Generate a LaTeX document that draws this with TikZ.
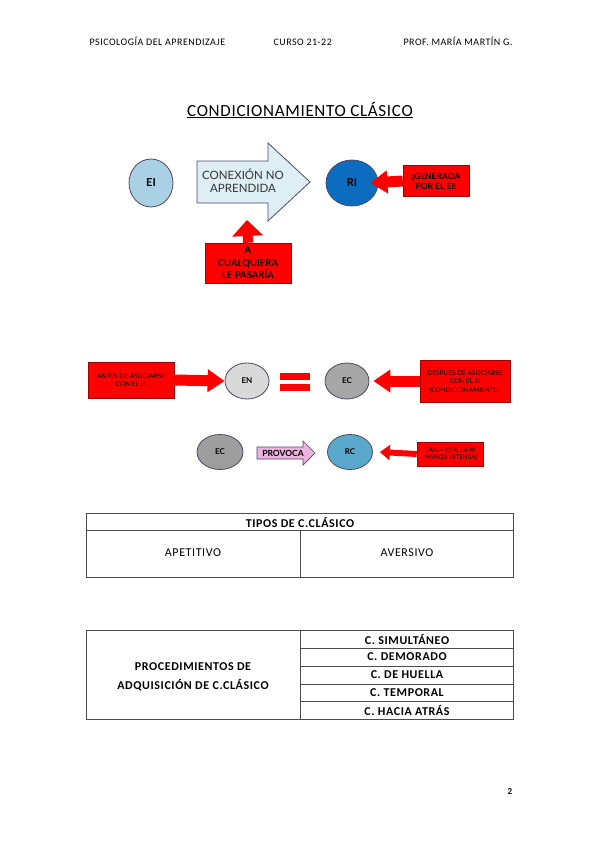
\documentclass[tikz,border=0pt]{standalone}
\usepackage{fontspec}
\setmainfont{Carlito}
\newfontfamily\dg{Lato}
\usetikzlibrary{arrows.meta,calc,shapes.geometric}
\definecolor{eiblue}{HTML}{A9D0E4}
\definecolor{riblue}{HTML}{0B6CC0}
\definecolor{rcblue}{HTML}{5AA8CC}
\definecolor{conex}{HTML}{DDEEF5}
\definecolor{edge}{HTML}{4A4A66}
\definecolor{pinkfill}{HTML}{EDB2DE}
\definecolor{engrey}{HTML}{D9D9D9}
\definecolor{ecgrey}{HTML}{A6A6A6}
\definecolor{darkred}{HTML}{A00000}
\tikzset{
  ell/.style={ellipse, draw=edge, line width=0.8pt, inner sep=0pt, text=black, font=\dg\bfseries\fontsize{8}{9}\selectfont},
  bigell/.style={ell, font=\dg\bfseries\fontsize{11}{12}\selectfont},
  redbox/.style={rectangle, fill=red, draw=darkred, line width=0.5pt, align=center, inner sep=0pt, text=black},
  redarrow/.style={draw=red, line width=#1, -{Triangle[width=22pt,length=17pt]}},
  tbl/.style={draw=black!70, line width=0.6pt},
  ttext/.style={font=\addfontfeatures{LetterSpace=5}\fontsize{12}{14}\selectfont, align=center},
  tbold/.style={font=\bfseries\addfontfeatures{LetterSpace=5}\fontsize{12}{14}\selectfont, align=center},
  hdr/.style={font=\addfontfeatures{LetterSpace=5}\fontsize{10}{12}\selectfont, anchor=base west}
}
\begin{document}
\begin{tikzpicture}[x=1pt,y=-1pt]
\useasboundingbox[fill=white] (0,0) rectangle (599,848);
% header
\node[hdr] (h1) at (86,46) {PSICOLOGÍA DEL APRENDIZAJE};
\node[hdr] (h2) at (270,46) {CURSO 21-22};
\node[hdr] (h3) at (400,46) {PROF. MARÍA MARTÍN G.};
% title
\node[font=\addfontfeatures{LetterSpace=4}\fontsize{17}{19}\selectfont] (title) at (300,110) {\underline{CONDICIONAMIENTO CLÁSICO}};
% section 1
\node[bigell, fill=eiblue, minimum width=44pt, minimum height=48pt] (EI) at (151,183) {EI};
\draw[fill=conex, draw=edge, line width=0.8pt] (197,161) -- (268,161) -- (268,143) -- (310,182) -- (268,221) -- (268,203) -- (197,203) -- cycle;
\node[font=\dg\fontsize{11.5}{13}\selectfont, align=center, text=black!80] (conx) at (243,181) {CONEXIÓN NO\\APRENDIDA};
\node[bigell, fill=riblue, minimum width=52pt, minimum height=46pt] (RI) at (352,183) {RI};
\node[redbox, minimum width=66pt, minimum height=31pt, font=\dg\bfseries\fontsize{8.5}{10}\selectfont] (gen) at (436,181) {¡GENERADA\\POR EL EI!};
\draw[redarrow=11pt] (gen.west) -- ($(RI.east)+(-8,0)$);
\node[redbox, minimum width=86pt, minimum height=40pt, font=\dg\bfseries\fontsize{9.5}{12.5}\selectfont] (cual) at (248,263) {A\\CUALQUIERA\\LE PASARÍA};
\coordinate (uptip) at (247,220);
\draw[draw=red, line width=10pt, -{Triangle[width=30pt,length=16pt]}] (cual.north) -- (uptip);
% section 2
\node[redbox, minimum width=86pt, minimum height=36pt, font=\dg\fontsize{6.5}{8.5}\selectfont] (antes) at (131,380) {ANTES DE ASOCIARSE\\CON EL EI};
\node[ell, fill=engrey, minimum width=44pt, minimum height=36pt] (EN) at (247,381) {EN};
\draw[redarrow=11pt] (antes.east) -- (EN.west);
\fill[red] (280,373) rectangle (310,380);
\fill[red] (280,384) rectangle (310,391);
\node[ell, fill=ecgrey, minimum width=44pt, minimum height=36pt] (EC1) at (347,381) {EC};
\node[redbox, minimum width=90pt, minimum height=42pt, font=\dg\fontsize{6.5}{8.5}\selectfont] (desp) at (465,381) {DESPUÉS DE ASOCIARSE\\CON EL EI\\(CONDICIONAMIENTO)};
\draw[redarrow=11pt] (desp.west) -- ($(EC1.east)+(4,0)$);
% section 3
\node[ell, fill=ecgrey!95!black, minimum width=46pt, minimum height=35pt] (EC2) at (220,452) {EC};
\draw[fill=pinkfill, draw=edge, line width=0.7pt] (257,447) -- (303,447) -- (303,441) -- (315,453) -- (303,465) -- (303,459) -- (257,459) -- cycle;
\node[font=\dg\bfseries\fontsize{8.5}{9}\selectfont] (prov) at (283,453) {PROVOCA};
\node[ell, fill=rcblue, minimum width=45pt, minimum height=35pt] (RC) at (350,452) {RC};
\node[redbox, minimum width=66pt, minimum height=24pt, font=\dg\fontsize{6.3}{7.5}\selectfont] (casi) at (450,454) {CASI = QUE LA RI\\(MENOS INTENSA)};
\draw[draw=red, line width=6pt, -{Triangle[width=15pt,length=10pt]}] (casi.west) -- ($(RC.east)+(7,0)$);
% table 1
\draw[tbl] (86,513) rectangle (513,577);
\draw[tbl] (86,530) -- (513,530);
\draw[tbl] (300,530) -- (300,577);
\node[tbold] (tipos) at (300,522) {TIPOS DE C.CLÁSICO};
\node[ttext] (apet) at (193,553) {APETITIVO};
\node[ttext] (aver) at (407,553) {AVERSIVO};
% table 2
\draw[tbl] (86,630) rectangle (513,719);
\draw[tbl] (300,630) -- (300,719);
\foreach \yy in {648,666,684,701} \draw[tbl] (300,\yy) -- (513,\yy);
\node[tbold, font=\bfseries\addfontfeatures{LetterSpace=5}\fontsize{12}{19}\selectfont] (proc) at (193,677) {PROCEDIMIENTOS DE\\ADQUISICIÓN DE C.CLÁSICO};
\node[tbold] (r1) at (407,639) {C. SIMULTÁNEO};
\node[tbold] (r2) at (407,657) {C. DEMORADO};
\node[tbold] (r3) at (407,675) {C. DE HUELLA};
\node[tbold] (r4) at (407,692.5) {C. TEMPORAL};
\node[tbold] (r5) at (407,710) {C. HACIA ATRÁS};
% page number
\node[font=\bfseries\fontsize{9}{10}\selectfont] (pg) at (510,792) {2};
\end{tikzpicture}
\end{document}
